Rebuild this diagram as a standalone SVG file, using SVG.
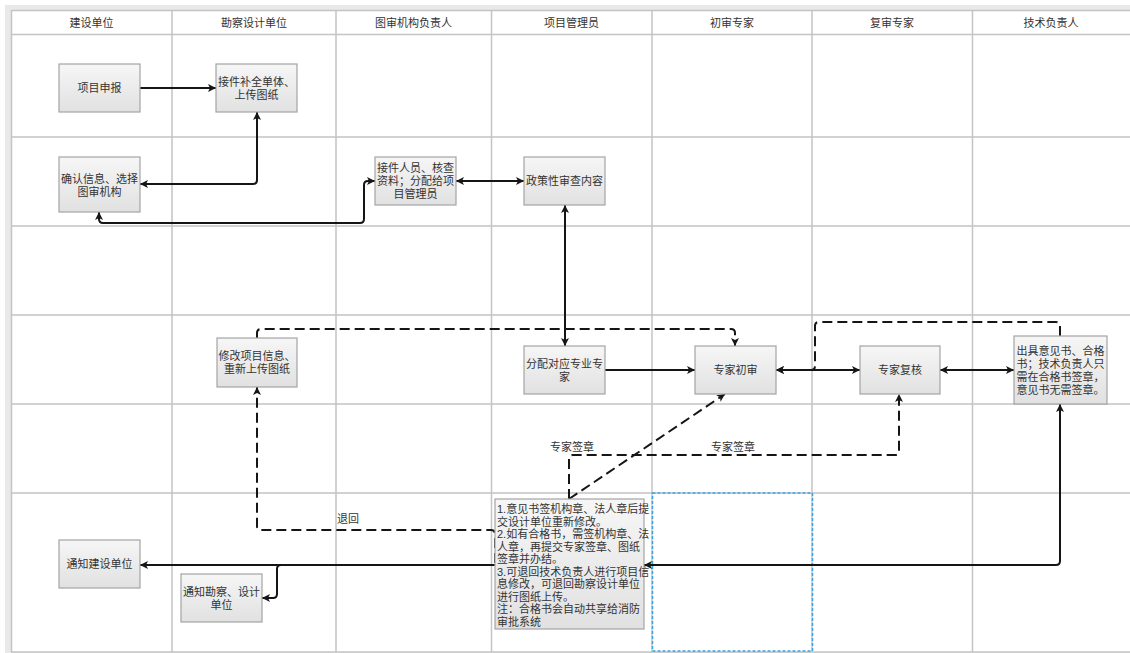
<svg xmlns="http://www.w3.org/2000/svg" width="1130" height="653" viewBox="0 0 1130 653">
<style>
text{font-family:"Liberation Sans","Noto Sans CJK SC",sans-serif;font-size:11px;fill:#333;}
.c{text-anchor:middle;dominant-baseline:central;}
.l{text-anchor:start;dominant-baseline:central;}
.grid{stroke:#c4c4c4;stroke-width:1.5;fill:none;}
.box{fill:url(#g);stroke:#a4a4a4;stroke-width:1.2;}
.s{fill:none;stroke:#151515;stroke-width:2;}
.d{fill:none;stroke:#151515;stroke-width:2;stroke-dasharray:10 5;}
.e1{marker-end:url(#arr);}
.e2{marker-start:url(#arr);marker-end:url(#arr);}
</style>
<defs>
<linearGradient id="g" x1="0" y1="0" x2="0" y2="1">
<stop offset="0" stop-color="#f6f6f6"/>
<stop offset="1" stop-color="#e1e1e1"/>
</linearGradient>
<marker id="arr" viewBox="0 0 10 10" refX="10" refY="5" markerWidth="8" markerHeight="8" markerUnits="userSpaceOnUse" orient="auto-start-reverse">
<path d="M0,0 L10,5 L0,10 L2.5,5 z" fill="#151515"/>
</marker>
</defs>
<rect x="0" y="0" width="1130" height="653" fill="#ffffff"/>
<rect x="5" y="5" width="1125" height="648" fill="#e9e9e9"/>
<rect x="11" y="10" width="1119" height="642" fill="#ffffff"/>
<g id="grid">
<path class="grid" d="M11,10.5 H1130 M11,34.5 H1130 M11,137 H1130 M11,226 H1130 M11,315 H1130 M11,404 H1130 M11,493 H1130 M11,652 H1130"/>
<path class="grid" d="M11.5,10 V652 M172,10 V652 M336,10 V652 M491.5,10 V652 M652,10 V652 M812,10 V652 M972.5,10 V652"/>
<text class="c" x="91.5" y="22.5">建设单位</text>
<text class="c" x="254" y="22.5">勘察设计单位</text>
<text class="c" x="413.5" y="22.5">图审机构负责人</text>
<text class="c" x="571.5" y="22.5">项目管理员</text>
<text class="c" x="732" y="22.5">初审专家</text>
<text class="c" x="892" y="22.5">复审专家</text>
<text class="c" x="1051" y="22.5">技术负责人</text>
</g>
<rect x="652.5" y="493" width="160" height="158" fill="none" stroke="#3aa3e3" stroke-width="1.5" stroke-dasharray="3 2"/>
<g id="connectors">
<path class="s e1" d="M140,88 L216,88"/>
<path class="s e2" d="M140,184 L253,184 Q257,184 257,180 L257,112"/>
<path class="s e2" d="M99,212 L99,219 Q99,223 103,223 L360,223 Q364,223 364,219 L364,185 Q364,181 368,181 L375,181"/>
<path class="s e2" d="M456,181 L524,181"/>
<path class="s e2" d="M565,205 L565,346"/>
<path class="s e1" d="M605,370 L695,370"/>
<path class="s e2" d="M776,370 L860,370"/>
<path class="s e2" d="M940,370 L1014,370"/>
<path class="d e1" d="M1060,336 L1060,326 Q1060,322 1056,322 L819,322 Q815,322 815,326 L815,366 Q815,370 811,370 L776,370"/>
<path class="d e1" d="M257,338 L257,333 Q257,329 261,329 L731,329 Q735,329 735,333 L735,346"/>
<path class="d e1" d="M495,563 L495,534 Q495,530 491,530 L261,530 Q257,530 257,526 L257,387"/>
<path class="s e1" d="M495,565 L140,565"/>
<path class="s e1" d="M495,565 L281,565 Q277,565 277,569 L277,594 Q277,598 273,598 L262,598"/>
<path class="s e2" d="M644,565 L1056,565 Q1060,565 1060,561 L1060,404"/>
<path class="d e1" d="M569,499 L725,394"/>
<path class="d e1" d="M569,499 L569,459 Q569,455 573,455 L895,455 Q899,455 899,451 L899,394"/>
<text class="c" x="348" y="519">退回</text>
<text class="c" x="572" y="447">专家签章</text>
<text class="c" x="733" y="447">专家签章</text>
</g>
<g id="n1"><rect class="box" x="59" y="64" width="81" height="48"/><text class="c" x="99.5" y="88">项目申报</text></g>
<g id="n2"><rect class="box" x="216" y="64" width="81" height="48"/><text class="c" x="256.5" y="82">接件补全单体、</text><text class="c" x="256.5" y="95">上传图纸</text></g>
<g id="n3"><rect class="box" x="59" y="157" width="81" height="55"/><text class="c" x="99.5" y="178.5">确认信息、选择</text><text class="c" x="99.5" y="191.5">图审机构</text></g>
<g id="n4"><rect class="box" x="375" y="157" width="81" height="48"/><text class="c" x="415.5" y="168">接件人员、核查</text><text class="c" x="415.5" y="181">资料；分配给项</text><text class="c" x="415.5" y="194">目管理员</text></g>
<g id="n5"><rect class="box" x="524" y="157" width="81" height="48"/><text class="c" x="564.5" y="181">政策性审查内容</text></g>
<g id="n6"><rect class="box" x="217" y="338" width="80" height="49"/><text class="c" x="257" y="356">修改项目信息、</text><text class="c" x="257" y="369">重新上传图纸</text></g>
<g id="n7"><rect class="box" x="524" y="346" width="81" height="48"/><text class="c" x="564.5" y="363.5">分配对应专业专</text><text class="c" x="564.5" y="376.5">家</text></g>
<g id="n8"><rect class="box" x="695" y="346" width="81" height="48"/><text class="c" x="735.5" y="370">专家初审</text></g>
<g id="n9"><rect class="box" x="860" y="346" width="80" height="48"/><text class="c" x="900" y="370">专家复核</text></g>
<g id="n10"><rect class="box" x="1014" y="336" width="93" height="68"/>
<text class="c" x="1060.5" y="350.5">出具意见书、合格</text>
<text class="c" x="1060.5" y="363.5">书；技术负责人只</text>
<text class="c" x="1060.5" y="376.5">需在合格书签章，</text>
<text class="c" x="1060.5" y="389.5">意见书无需签章。</text>
</g>
<g id="n11"><rect class="box" x="495" y="499" width="149" height="130"/>
<text class="l" x="497" y="509">1.意见书签机构章、法人章后提</text>
<text class="l" x="497" y="521.5">交设计单位重新修改。</text>
<text class="l" x="497" y="534">2.如有合格书，需签机构章、法</text>
<text class="l" x="497" y="546.5">人章，再提交专家签章、图纸</text>
<text class="l" x="497" y="559">签章并办结。</text>
<text class="l" x="497" y="571.5">3.可退回技术负责人进行项目信</text>
<text class="l" x="497" y="584">息修改，可退回勘察设计单位</text>
<text class="l" x="497" y="596.5">进行图纸上传。</text>
<text class="l" x="497" y="609">注：合格书会自动共享给消防</text>
<text class="l" x="497" y="621.5">审批系统</text>
</g>
<g id="n12"><rect class="box" x="59" y="540" width="81" height="48"/><text class="c" x="99.5" y="564">通知建设单位</text></g>
<g id="n13"><rect class="box" x="181" y="574" width="81" height="48"/><text class="c" x="221.5" y="591.5">通知勘察、设计</text><text class="c" x="221.5" y="604.5">单位</text></g>
</svg>
